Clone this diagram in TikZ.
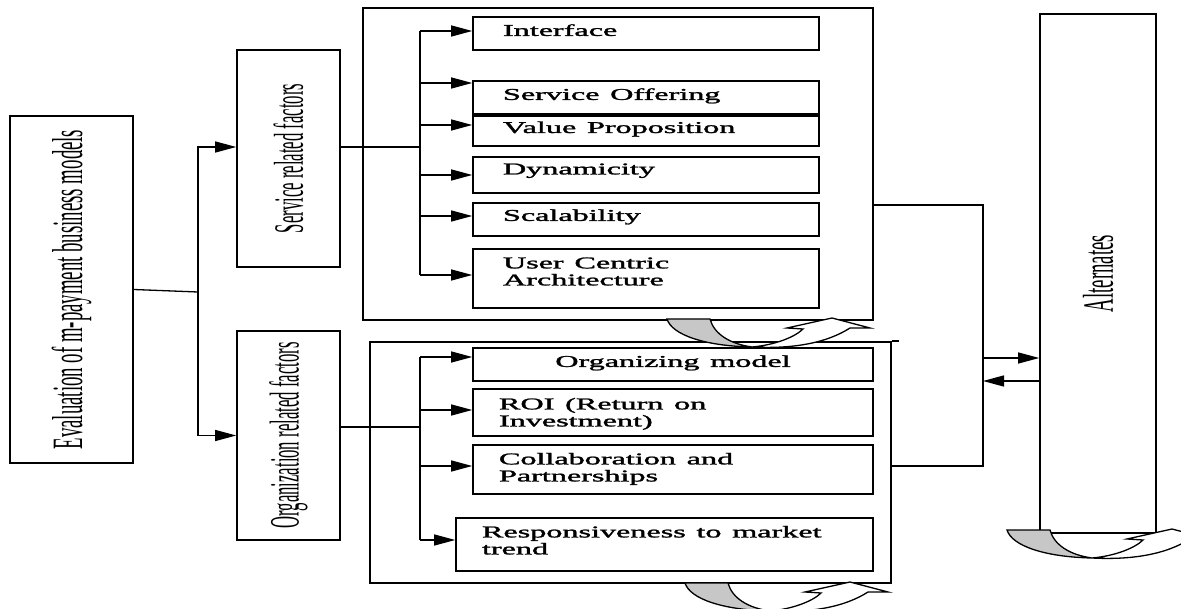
\documentclass[tikz,border=0pt]{standalone}
\usepackage{fontspec}
\setmainfont{Liberation Serif}
\newfontfamily\itemfont[FakeBold=1.4]{Liberation Serif}
\usepackage{graphicx}
\usetikzlibrary{arrows.meta}

\newcommand{\boxtext}[2][1]{\raisebox{#1pt}[\height][\depth]{\scalebox{1.95}[1]{\begin{tabular}{@{}l@{}}#2\end{tabular}}}}
\newcommand{\sidetext}[3]{\rotatebox{90}{\scalebox{1}[#2]{\fontsize{#1}{#1}\selectfont #3}}}

\begin{document}
\begin{tikzpicture}[x=1pt,y=-1pt,
    factor/.style={draw,line width=1.6pt,inner sep=0pt},
    item/.style={draw,line width=1.6pt,inner ysep=0pt,align=left,
      font=\itemfont\fontsize{16.5}{17}\selectfont},
    link/.style={line width=1.3pt},
    arr/.style={line width=1.3pt,-{Triangle[length=21pt,width=11pt]}},
    turn/.style={line width=1.3pt}]
    \useasboundingbox (0,0) rectangle (1181,609);
    \clip (0,0) rectangle (1181,609);

    \def\turngrey{(0,0) -- (43,0) .. controls (47,15) and (63,25) .. (85,28) .. controls (38,27) and (5,16) .. (0,0) -- cycle}
    \def\turnwhite{(85,28) .. controls (108,26) and (128,18) .. (136,10) -- (120,9) -- (165,-1) -- (203,9) -- (183,9) .. controls (158,25) and (123,30) .. (85,28) -- cycle}

    % main blocks
    \node[factor,minimum width=123pt,minimum height=347pt] (eval) at (71.5,289.5)
      {\sidetext{18.8}{2.3}{Evaluation of m-payment business models}};
    \node[factor,minimum width=103pt,minimum height=217pt] (svc) at (288.5,158.5)
      {\sidetext{16.7}{2.5}{Service related factors}};
    \node[factor,minimum width=103pt,minimum height=209pt] (org) at (288.5,435.5)
      {\sidetext{16.7}{2.5}{Organization related factors}};
    \node[factor,minimum width=116pt,minimum height=519pt] (alt) at (1098,273.5)
      {\sidetext{18.8}{2.3}{Alternates}};

    % frames
    \node[factor,minimum width=510pt,minimum height=312pt] (sframe) at (618,164) {};
    \node[factor,minimum width=521pt,minimum height=241pt] (oframe) at (630.5,462.5) {};
    \draw[line width=1.6pt] (oframe.north east) -- ++(7,0);

    % service factors
    \begin{scope}[every node/.style={item,inner xsep=30pt,text width=286pt}]
      \node[minimum height=33pt] (s1) at (646,33.5) {\boxtext{Interface}};
      \node[minimum height=33pt] (s2) at (646,97.5) {\boxtext{Service Offering}};
      \node[minimum height=30pt] (s3) at (646,131) {\boxtext[1.4]{Value Proposition}};
      \node[minimum height=36pt] (s4) at (646,175) {\boxtext[4]{Dynamicity}};
      \node[minimum height=33pt] (s5) at (646,219.5) {\boxtext[2]{Scalability}};
      \node[minimum height=59pt] (s6) at (646,278.5) {\boxtext[5]{User Centric\\Architecture}};
    \end{scope}

    % organization factors
    \begin{scope}[every node/.style={item,inner xsep=26pt,text width=348pt}]
      \node[minimum height=33pt,align=center] (o1) at (673,364.5) {\boxtext{Organizing model}};
      \node[minimum height=47pt] (o2) at (673,412.5) {\boxtext[-2]{ROI (Return on\\Investment)}};
      \node[minimum height=49pt] (o3) at (673,469.5) {\boxtext[0]{Collaboration and\\Partnerships}};
      \node[minimum height=53pt,text width=365pt] (o4) at (664.5,544.5) {\boxtext[2]{Responsiveness to market\\trend}};
    \end{scope}

    % connectors
    \coordinate (lbus) at (198,292);
    \coordinate (sbus) at (420,0);
    \coordinate (rbus) at (983,205);
    \coordinate (rbot) at (983,466);

    \draw[link] (eval.east) -- (lbus);
    \draw[arr] (lbus) |- (svc.west |- 0,147);
    \draw[arr] (lbus) |- (org.west);

    \draw[link] (svc.east |- 0,147) -- (sbus |- 0,147);
    \draw[link] (sbus |- 0,31) -- (sbus |- 0,275);
    \foreach \b/\y in {s1/31,s2/83,s3/125,s4/175,s5/216,s6/275}
      \draw[arr] (sbus |- 0,\y) -- (\b.west |- 0,\y);

    \draw[link] (org.east |- 0,427) -- (sbus |- 0,427);
    \draw[link] (sbus |- 0,357) -- (sbus |- 0,540);
    \foreach \b/\y in {o1/357,o2/410,o3/466,o4/540}
      \draw[arr] (sbus |- 0,\y) -- (\b.west |- 0,\y);

    \draw[link] (sframe.east |- rbus) -- (rbus) -- (rbot) -- (oframe.east |- rbot);
    \draw[arr] (rbus |- 0,358) -- (alt.west |- 0,358);
    \draw[arr] (alt.west |- 0,381) -- (rbus |- 0,381);

    % curved turn arrows
    \foreach \x/\y in {667/319,685/583,1007/530}
    {
      \begin{scope}[shift={(\x,\y)}]
        \filldraw[turn,fill=black!22] \turngrey;
        \filldraw[turn,fill=white] \turnwhite;
      \end{scope}
    }
\end{tikzpicture}
\end{document}
